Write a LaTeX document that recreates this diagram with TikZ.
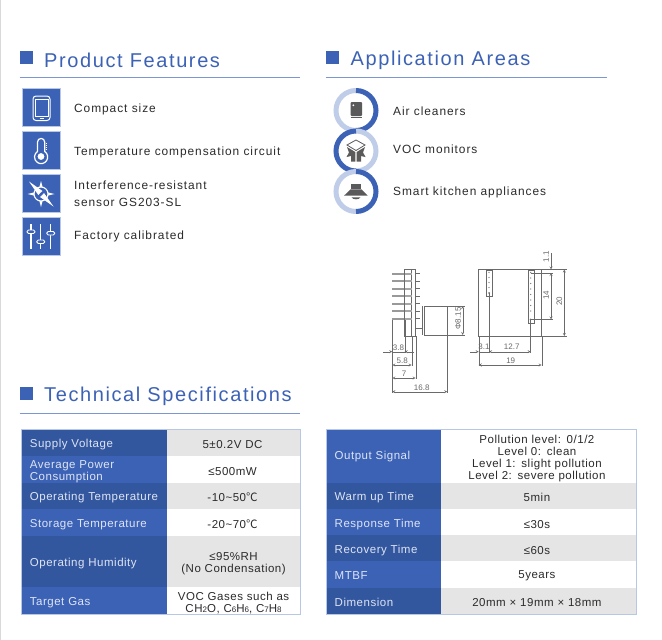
\documentclass[tikz,border=0pt]{standalone}
\usepackage{xcolor}
\usepackage{fontspec}
\usepackage{tikz}
\setmainfont[LetterSpace=8]{Liberation Sans}
\newfontfamily\headfont[LetterSpace=8]{Liberation Sans}
\newfontfamily\tablefont[LetterSpace=4.5]{Liberation Sans}
\newfontfamily\plainfont{Liberation Sans}
\newfontfamily\cjkfont{Noto Sans CJK SC}
\definecolor{brandblue}{HTML}{3C62B6}
\definecolor{darkblue}{HTML}{33579F}
\definecolor{rulecolor}{HTML}{7C96D0}
\definecolor{paleblue}{HTML}{C0CDE9}
\definecolor{cellgray}{HTML}{E5E5E5}
\definecolor{iconborder}{HTML}{B9C7E6}
\definecolor{icongray}{HTML}{5A5A5A}
\definecolor{inktext}{HTML}{2B2B2B}
\definecolor{labeltext}{HTML}{DDE4F4}
\definecolor{drawline}{HTML}{6A6A6A}
\newcommand{\degc}{{\cjkfont ℃}}
\newcommand{\lowsub}[1]{{\fontsize{8}{8}\selectfont #1}}

\begin{document}
\begin{tikzpicture}[x=1pt, y=-1pt, node distance=43pt, auto]
    % Define styles
    \tikzstyle{headmark} = [rectangle, fill=brandblue, minimum size=13pt, inner sep=0pt]
    \tikzstyle{headtext} = [anchor=west, inner sep=0pt, text=brandblue, font=\headfont\fontsize{20}{20}\selectfont]
    \tikzstyle{headrule} = [draw=rulecolor, line width=0.8pt]
    \tikzstyle{iconbox} = [rectangle, draw=iconborder, line width=0.8pt, fill=brandblue, minimum size=37.5pt, inner sep=0pt]
    \tikzstyle{itemtext} = [anchor=west, inner sep=0pt, align=left, text=inktext, font=\fontsize{11.9}{17}\selectfont]
    \tikzstyle{iconline} = [draw=white, line width=1pt]
    \tikzstyle{slideknob} = [draw=white, fill=brandblue, line width=0.8pt, rounded corners=1.5pt]
    \tikzstyle{ringlight} = [draw=paleblue, line width=5pt]
    \tikzstyle{ringdark} = [draw=brandblue, line width=5pt]
    \tikzstyle{cell} = [rectangle, anchor=north west, inner ysep=0pt, text height=12pt, font=\tablefont\fontsize{11.5}{12}\selectfont]
    \tikzstyle{labeldark} = [cell, fill=darkblue, text=labeltext, align=left, inner xsep=8pt]
    \tikzstyle{labelblue} = [cell, fill=brandblue, text=labeltext, align=left, inner xsep=8pt]
    \tikzstyle{valuegray} = [cell, fill=cellgray, text=inktext, align=center, inner xsep=0pt]
    \tikzstyle{valuewhite} = [cell, fill=white, text=inktext, align=center, inner xsep=0pt]
    \tikzstyle{tableframe} = [draw=iconborder, line width=0.8pt]
    \tikzstyle{part} = [draw=drawline, line width=0.5pt]
    \tikzstyle{pinbar} = [draw=black!40, fill=white, line width=0.3pt]
    \tikzstyle{dimline} = [draw=drawline, line width=0.35pt, >=stealth]
    \tikzstyle{dimtext} = [inner sep=0pt, text=drawline, font=\plainfont\fontsize{8}{9}\selectfont]

    \useasboundingbox (0,0) rectangle (662,640);
    \fill [white] (0,0) rectangle (662,640);
    \fill [black!15] (0,0) rectangle (1,640);

    % Headings
    \node [headmark] (featuremark) at (26.5,57.5) {};
    \node [headtext] (featurehead) at (44,60) {Product Features};
    \draw [headrule] (19.5,77.5) -- (300,77.5);
    \node [headmark] (areamark) at (332.5,57.5) {};
    \node [headtext] (areahead) at (350.5,60) {Application Areas};
    \draw [headrule] (326,77.5) -- (607,77.5);
    \node [headmark] (specmark) at (26.5,393) {};
    \node [headtext] (spechead) at (44,396) {Technical Specifications};
    \draw [headrule] (19.5,413.5) -- (300,413.5);

    % Feature icons
    \node [iconbox] (sizeicon) at (41.5,107.5) {};
    \node [iconbox, below of=sizeicon] (tempicon) {};
    \node [iconbox, below of=tempicon] (noiseicon) {};
    \node [iconbox, below of=noiseicon] (calibicon) {};

    % Feature texts
    \node [itemtext] (sizetext) at (74,109.5) {Compact size};
    \node [itemtext] (temptext) at (74,152.5) {Temperature compensation circuit};
    \node [itemtext] (noisetext) at (74,194) {Interference-resistant\\sensor GS203-SL};
    \node [itemtext] (calibtext) at (74,236.5) {Factory calibrated};

    % Phone glyph
    \draw [iconline, rounded corners=3pt] (33,96) rectangle (50,120.5);
    \draw [iconline, line width=0.6pt] (35,99) rectangle (48,116.5);
    \draw [iconline, line width=0.8pt] (39.5,118.5) -- (43.5,118.5);

    % Thermometer glyph
    \draw [iconline, line width=1.2pt] (37.5,151.5) -- (37.5,142) arc (180:360:3.6) -- (44.7,151.5) arc (-57:237:6.6);
    \fill [white] (41,156.5) circle (3.4);
    \draw [iconline, line width=0.6pt] (45.5,143) -- (47,143) (45.5,145) -- (47,145) (45.5,147) -- (47,147) (45.5,149) -- (47,149);

    % Compass glyph
    \draw [iconline, line width=1.1pt] (41,194) circle (7);
    \fill [white] (41,181) -- (42.6,187) -- (39.4,187) -- cycle;
    \fill [white] (41,207) -- (42.6,201) -- (39.4,201) -- cycle;
    \fill [white] (54.5,194) -- (48,192.4) -- (48,195.6) -- cycle;
    \fill [white] (27.5,194) -- (34,192.4) -- (34,195.6) -- cycle;
    \fill [white] (29,181.5) -- (42.5,191) -- (38.3,195) -- cycle;
    \fill [white] (53.5,206.5) -- (44,193) -- (40,197) -- cycle;
    \fill [brandblue] (41,194) circle (1.5);

    % Slider glyph
    \draw [iconline, line width=1.3pt] (31,224) -- (31,249) (40.7,224) -- (40.7,249) (50.7,224) -- (50.7,249);
    \draw [slideknob] (27,230) rectangle (35,233.5);
    \draw [slideknob] (36.7,240) rectangle (44.7,243.5);
    \draw [slideknob] (46.7,231.5) rectangle (54.7,235);

    % Area rings
    \draw [ringlight] (356,90.5) arc (-90:-270:20);
    \draw [ringdark] (356,90.5) arc (-90:90:20);
    \draw [ringlight] (356,131) arc (-90:90:20);
    \draw [ringdark] (356,131) arc (-90:-270:20);
    \draw [ringlight] (356,171.5) arc (-90:-270:20);
    \draw [ringdark] (356,171.5) arc (-90:90:20);

    % Area texts
    \node [itemtext] (cleanertext) at (393,111) {Air cleaners};
    \node [itemtext] (monitortext) at (393,149.5) {VOC monitors};
    \node [itemtext] (kitchentext) at (393,192) {Smart kitchen appliances};

    % Cleaner glyph
    \fill [icongray, rounded corners=1pt] (350.7,102) rectangle (362,116);
    \fill [white] (353.4,105.3) circle (1);
    \draw [icongray, line width=0.7pt] (350.7,117.7) -- (362,117.7);

    % Box glyph
    \draw [icongray, fill=white, line width=0.8pt] (356,140) -- (365,145) -- (356,150.5) -- (347,145) -- cycle;
    \fill [icongray] (347,147) -- (355.3,152) -- (355.3,161.5) -- (351,161.5) -- (351,156) -- (346.5,157) -- (349,152.5) -- cycle;
    \fill [icongray] (365,147) -- (356.7,152) -- (356.7,161.5) -- (361,161.5) -- (361,156) -- (365.5,157) -- (363,152.5) -- cycle;

    % Hood glyph
    \fill [icongray] (350.7,184) rectangle (361.3,189.3);
    \fill [icongray] (350.7,189.3) -- (361.3,189.3) -- (367.7,195.7) -- (344,195.7) -- cycle;
    \fill [icongray] (351.5,197.3) -- (360.5,197.3) .. controls (359,200) and (353,200) .. (351.5,197.3);

    % Side view
    \draw [pinbar] (392.3,272.7) rectangle (404.7,274);
    \draw [pinbar] (392.3,280.3) rectangle (404.7,281.6);
    \draw [pinbar] (392.3,287.7) rectangle (404.7,289);
    \draw [pinbar] (392.3,295.3) rectangle (404.7,296.6);
    \draw [pinbar] (392.3,302.7) rectangle (404.7,304);
    \draw [pinbar] (392.3,310.3) rectangle (404.7,311.6);
    \draw [pinbar] (392.3,317.7) rectangle (404.7,319);
    \draw [part] (404.7,269.5) rectangle (411.5,336);
    \draw [part] (411.5,269.5) rectangle (415.5,336);
    \fill [black!35] (404.7,272.7) rectangle (411.5,274.5);
    \fill [black!35] (404.7,280.3) rectangle (411.5,282);
    \fill [black!35] (404.7,287.7) rectangle (411.5,289.5);
    \fill [black!35] (404.7,295.3) rectangle (411.5,297);
    \fill [black!35] (404.7,302.7) rectangle (411.5,304.5);
    \fill [black!35] (404.7,310.3) rectangle (411.5,312);
    \fill [black!35] (404.7,317.7) rectangle (411.5,319.5);
    \draw [part, line width=0.3pt] (415.5,273.3) -- (420,273.3) (415.5,281) -- (420,281) (415.5,288.3) -- (420,288.3) (415.5,296) -- (420,296) (415.5,303.3) -- (420,303.3) (415.5,311) -- (420,311) (415.5,318.3) -- (420,318.3) (415.5,328) -- (421.5,328);
    \draw [part, line width=0.8pt] (422.5,306) -- (422.5,335);
    \draw [part] (424,306.7) rectangle (447.3,335);
    \draw [part, line width=0.8pt] (447.3,306.7) -- (447.3,335);

    % Side view dimensions
    \draw [part, line width=0.6pt] (392.3,320) -- (392.3,393);
    \draw [dimline] (404.7,320) -- (404.7,353) (411.7,336) -- (411.7,366) (415.7,336) -- (415.7,379) (447.3,335) -- (447.3,393);
    \draw [dimline] (447.3,306) -- (465,306) (447.3,335) -- (465,335);
    \draw [dimline, ->] (383,351.7) -- (392.3,351.7);
    \draw [dimline] (392.3,351.7) -- (404.7,351.7);
    \draw [dimline, <-] (404.7,351.7) -- (414,351.7);
    \draw [dimline, <->] (392.3,365) -- (411.7,365);
    \draw [dimline, <->] (392.3,378) -- (415.7,378);
    \draw [dimline, <->] (392.3,391.7) -- (447.3,391.7);
    \draw [dimline, <->] (462.7,306) -- (462.7,335);
    \node [dimtext] (dimpinside) at (398.5,347.3) {3.8};
    \node [dimtext] (dimboard) at (402.3,361) {5.8};
    \node [dimtext] (dimpins) at (404,374) {7};
    \node [dimtext] (dimtotal) at (421.7,387.3) {16.8};
    \node [dimtext, rotate=90] (dimbore) at (458,318.5) {Φ8.15};

    % Top view
    \draw [part] (478.7,269.5) rectangle (541.7,336);
    \draw [part, line width=0.4pt] (485.7,270) rectangle (492,296);
    \draw [part, line width=0.4pt] (527.7,270) rectangle (534,322.7);
    \fill [drawline] (489,272.5) circle (0.7) (489,277.5) circle (0.7) (489,282.5) circle (0.7) (489,287.5) circle (0.7) (489,293) circle (1);
    \fill [drawline] (530.7,272.5) circle (0.7) (530.7,278) circle (0.7) (530.7,283.5) circle (0.7) (530.7,289) circle (0.7) (530.7,294.5) circle (0.7) (530.7,300) circle (0.7) (530.7,305.5) circle (0.7) (530.7,311) circle (0.7) (530.7,319.5) circle (1);

    % Top view dimensions
    \draw [dimline] (478.7,336) -- (478.7,366) (541.7,336) -- (541.7,366);
    \draw [part, line width=0.5pt] (489,293) -- (489,353) (530.7,319.5) -- (530.7,353);
    \draw [dimline] (541.7,269.5) -- (567,269.5) (541.7,336) -- (567,336);
    \draw [dimline] (530.7,273) -- (553,273) (530.7,319.5) -- (553,319.5);
    \draw [dimline, ->] (470,351.7) -- (478.7,351.7);
    \draw [dimline] (478.7,351.7) -- (489,351.7);
    \draw [dimline, <->] (489,351.7) -- (530.7,351.7);
    \draw [dimline, <->] (478.7,365) -- (541.7,365);
    \draw [dimline, ->] (551,253) -- (551,269.5);
    \draw [dimline, <->] (551,273) -- (551,319.5);
    \draw [dimline, <->] (564.3,269.5) -- (564.3,336);
    \node [dimtext] (dimedge) at (484,347) {3.1};
    \node [dimtext] (dimpitch) at (511.7,347) {12.7};
    \node [dimtext] (dimwidth) at (510.7,361) {19};
    \node [dimtext, rotate=90] (dimgap) at (546,256.7) {1.1};
    \node [dimtext, rotate=90] (dimrow) at (546,295) {14};
    \node [dimtext, rotate=90] (dimheight) at (559.3,301) {20};

    % Left table
    \node [labeldark, text width=129pt, minimum height=26.5pt] (voltlabel) at (21.7,429.5) {Supply Voltage};
    \node [labelblue, text width=129pt, minimum height=26.5pt] (powerlabel) at (21.7,456) {Average Power\\Consumption};
    \node [labeldark, text width=129pt, minimum height=26.5pt] (optemplabel) at (21.7,482.5) {Operating Temperature};
    \node [labelblue, text width=129pt, minimum height=26.5pt] (sttemplabel) at (21.7,509) {Storage Temperature};
    \node [labeldark, text width=129pt, minimum height=51.5pt, text height=13pt] (humlabel) at (21.7,535.5) {Operating Humidity};
    \node [labelblue, text width=129pt, minimum height=27.5pt] (gaslabel) at (21.7,587) {Target Gas};
    \node [valuegray, text width=133.3pt, minimum height=26.5pt] (voltvalue) at (166.7,429.5) {\hspace*{-2pt}5±0.2V DC};
    \node [valuewhite, text width=133.3pt, minimum height=26.5pt] (powervalue) at (166.7,456) {\hspace*{-2pt}≤500mW};
    \node [valuegray, text width=133.3pt, minimum height=26.5pt] (optempvalue) at (166.7,482.5) {\hspace*{-2pt}-10\textasciitilde 50\degc};
    \node [valuewhite, text width=133.3pt, minimum height=26.5pt] (sttempvalue) at (166.7,509) {\hspace*{-2pt}-20\textasciitilde 70\degc};
    \node [valuegray, text width=133.3pt, minimum height=51.5pt] (humvalue) at (166.7,535.5) {≤95\%RH\\(No Condensation)};
    \node [valuewhite, text width=133.3pt, minimum height=27.5pt] (gasvalue) at (166.7,587) {VOC Gases such as\\CH\lowsub{2}O, C\lowsub{6}H\lowsub{6}, C\lowsub{7}H\lowsub{8}};
    \draw [tableframe] (21.7,429.5) rectangle (300,614.5);

    % Right table
    \node [labelblue, text width=97.8pt, minimum height=53pt, text height=8pt] (outputlabel) at (326.5,429.5) {Output Signal};
    \node [labeldark, text width=97.8pt, minimum height=26.5pt] (warmlabel) at (326.5,482.5) {Warm up Time};
    \node [labelblue, text width=97.8pt, minimum height=26pt] (resplabel) at (326.5,509) {Response Time};
    \node [labeldark, text width=97.8pt, minimum height=26pt] (recovlabel) at (326.5,535) {Recovery Time};
    \node [labelblue, text width=97.8pt, minimum height=27pt, text height=10pt] (mtbflabel) at (326.5,561) {MTBF};
    \node [labeldark, text width=97.8pt, minimum height=26.5pt, text height=10pt] (dimenlabel) at (326.5,588) {Dimension};
    \node [valuewhite, text width=196.4pt, minimum height=53pt] (outputvalue) at (440.3,429.5) {\hspace*{-3.5pt}Pollution level: 0/1/2\\\hspace*{-3.5pt}Level 0: clean\\\hspace*{-3.5pt}Level 1: slight pollution\\\hspace*{-3.5pt}Level 2: severe pollution};
    \node [valuegray, text width=196.4pt, minimum height=26.5pt] (warmvalue) at (440.3,482.5) {\hspace*{-3.5pt}5min};
    \node [valuewhite, text width=196.4pt, minimum height=26pt] (respvalue) at (440.3,509) {\hspace*{-3.5pt}≤30s};
    \node [valuegray, text width=196.4pt, minimum height=26pt] (recovvalue) at (440.3,535) {\hspace*{-3.5pt}≤60s};
    \node [valuewhite, text width=196.4pt, minimum height=27pt, text height=10pt] (mtbfvalue) at (440.3,561) {\hspace*{-3.5pt}5years};
    \node [valuegray, text width=196.4pt, minimum height=26.5pt, text height=10pt] (dimenvalue) at (440.3,588) {\hspace*{-3.5pt}20mm × 19mm × 18mm};
    \draw [tableframe] (326.5,429.5) rectangle (636.7,614.5);

\end{tikzpicture}
\end{document}
